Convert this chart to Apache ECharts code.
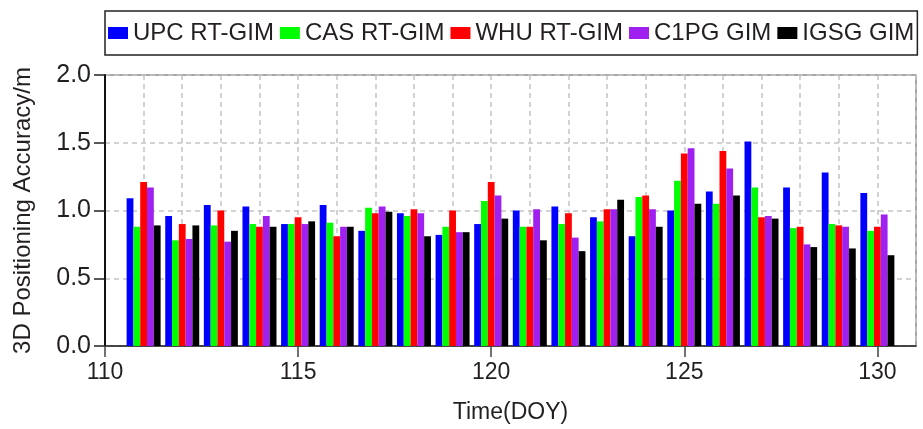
<!DOCTYPE html>
<html>
<head>
<meta charset="utf-8">
<title>3D Positioning Accuracy</title>
<script src="https://cdn.jsdelivr.net/npm/echarts@6/dist/echarts.min.js"></script>
<style>
  html, body { margin: 0; padding: 0; background: #fff; }
  #chart { width: 923px; height: 429px; }
</style>
</head>
<body>
<div id="chart"></div>
<script>
// Day of year for each group of bars
const days = [111, 112, 113, 114, 115, 116, 117, 118, 119, 120,
              121, 122, 123, 124, 125, 126, 127, 128, 129, 130];

// 3D positioning accuracy (m) per GIM product
const upcRT  = [1.09, 0.96, 1.04, 1.03, 0.90, 1.04, 0.85, 0.98, 0.82, 0.90,
                1.00, 1.03, 0.95, 0.81, 1.00, 1.14, 1.51, 1.17, 1.28, 1.13];
const casRT  = [0.88, 0.78, 0.89, 0.90, 0.90, 0.91, 1.02, 0.96, 0.88, 1.07,
                0.88, 0.90, 0.92, 1.10, 1.22, 1.05, 1.17, 0.87, 0.90, 0.85];
const whuRT  = [1.21, 0.90, 1.00, 0.88, 0.95, 0.81, 0.98, 1.01, 1.00, 1.21,
                0.88, 0.98, 1.01, 1.11, 1.42, 1.44, 0.95, 0.88, 0.89, 0.88];
const c1pg   = [1.17, 0.79, 0.77, 0.96, 0.90, 0.88, 1.03, 0.98, 0.84, 1.11,
                1.01, 0.80, 1.01, 1.01, 1.46, 1.31, 0.96, 0.75, 0.88, 0.97];
const igsg   = [0.89, 0.89, 0.85, 0.88, 0.92, 0.88, 0.99, 0.81, 0.84, 0.94,
                0.78, 0.70, 1.08, 0.88, 1.05, 1.11, 0.94, 0.73, 0.72, 0.67];

const seriesNames = ['UPC RT-GIM', 'CAS RT-GIM', 'WHU RT-GIM', 'C1PG GIM', 'IGSG GIM'];
const seriesValues = [upcRT, casRT, whuRT, c1pg, igsg];
const seriesColors = ['#0000FF', '#00FF00', '#FF0000', '#A020F0', '#000000'];

// Axis ticks
const xLabelTicks = [110, 115, 120, 125, 130];
const yTicks = [0, 0.5, 1.0, 1.5, 2.0];

const TEXT = '#231f20';
const FONT = "'Liberation Sans', Arial, sans-serif";

const chart = echarts.init(document.getElementById('chart'), null, { renderer: 'canvas' });

const option = {
  animation: false,
  backgroundColor: '#fff',
  textStyle: { fontFamily: FONT, color: TEXT },
  grid: {
    left: 105, right: 7, top: 75, bottom: 83,
    show: true, borderColor: '#8a8a8a', borderWidth: 1.5, backgroundColor: 'transparent'
  },
  legend: {
    left: 105, top: 11,
    padding: [10, 3, 10, 3],
    borderColor: '#222', borderWidth: 1.5,
    itemWidth: 20, itemHeight: 12, itemGap: 6,
    icon: 'rect',
    textStyle: { fontFamily: FONT, fontSize: 24, color: TEXT },
    data: seriesNames
  },
  xAxis: [
    {
      // daily dashed grid
      type: 'value', min: 110, max: 131, interval: 1,
      axisLine: { show: false }, axisTick: { show: false }, axisLabel: { show: false },
      splitLine: { show: true, lineStyle: { color: '#c4c4c4', type: [5, 4], width: 1.5 } }
    },
    {
      type: 'value', min: 110, max: 131, interval: 5, position: 'bottom',
      axisLine: { show: true, onZero: false, lineStyle: { color: '#222', width: 1.5 } },
      axisTick: { show: true, inside: false, length: 11, customValues: xLabelTicks,
                  lineStyle: { color: '#444', width: 1.5 } },
      axisLabel: { show: true, margin: 15, customValues: xLabelTicks,
                   fontSize: 23, color: TEXT, fontFamily: FONT },
      splitLine: { show: false },
      name: 'Time(DOY)', nameLocation: 'middle', nameGap: 55,
      nameTextStyle: { fontSize: 23, color: TEXT, fontFamily: FONT }
    }
  ],
  yAxis: {
    type: 'value', min: 0, max: 2, interval: 0.5,
    axisLine: { show: true, onZero: false, lineStyle: { color: '#111', width: 2 } },
    axisTick: { show: true, inside: false, length: 11, lineStyle: { color: '#222', width: 1.5 } },
    axisLabel: { margin: 14, fontSize: 25, color: TEXT, fontFamily: FONT,
                 customValues: yTicks, formatter: v => v.toFixed(1) },
    splitLine: { show: true, lineStyle: { color: '#c4c4c4', type: [5, 4], width: 1.5 } },
    name: '3D Positioning Accuracy/m', nameLocation: 'middle', nameGap: 70,
    nameTextStyle: { fontSize: 24, color: TEXT, fontFamily: FONT }
  },
  series: seriesNames.map((name, i) => ({
    name,
    type: 'bar',
    xAxisIndex: 0,
    barWidth: 6.8,
    barGap: '0%',
    itemStyle: { color: seriesColors[i] },
    data: days.map((d, k) => [d, seriesValues[i][k]])
  }))
};

chart.setOption(option);
</script>
</body>
</html>
